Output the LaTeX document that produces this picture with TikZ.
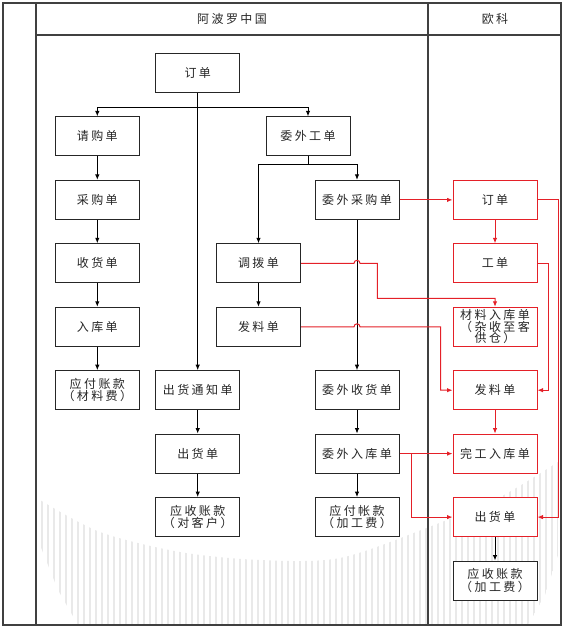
\documentclass[tikz,border=0pt]{standalone}
\usepackage{fontspec}
\setmainfont{Noto Sans CJK SC}[LetterSpace=20]
\usetikzlibrary{arrows.meta,calc}
\definecolor{myred}{RGB}{228,32,40}
\begin{document}
\begin{tikzpicture}[x=1pt,y=-1pt,
  box/.style={draw=black!85, line width=1pt, fill=white, minimum width=84pt, minimum height=39pt,
    inner sep=0pt, align=center, font=\fontsize{12}{12.5}\selectfont, text=black!85},
  rbox/.style={box, draw=myred},
  hdr/.style={inner sep=0pt, font=\fontsize{12}{12.5}\selectfont, text=black!85},
  conn/.style={draw=black, line width=1pt, -{Latex[length=5.5pt,width=4.5pt]}},
  plain/.style={draw=black, line width=1pt},
  rconn/.style={draw=myred, line width=1pt, -{Latex[length=5.5pt,width=4.5pt]}, color=myred},
  frame/.style={draw=black!75, line width=1.6pt},
  stripe/.style={draw=gray!17, line width=2pt}]
\useasboundingbox (0,0) rectangle (564,628);
% watermark
\begin{scope}
\clip plot[smooth] coordinates {(40,500) (100,532) (180,552) (260,560) (340,558) (429,527) (500,497) (558,462)}
  -- (558,555) -- (545,595) -- (528,625) -- (78,625) -- (58,590) -- (40,545) -- cycle;
\foreach \x in {42,48,...,558} \draw[stripe] (\x,450) -- (\x,628);
\end{scope}
% frame
\draw[frame] (3,3) rectangle (561,625);
\draw[frame] (36,3) -- (36,625);
\draw[frame] (428,3) -- (428,625);
\draw[frame] (36,35) -- (561,35);
\node[hdr] (h1) at (232,19) {阿波罗中国};
\node[hdr] (h2) at (495,19) {欧科};
% nodes
\node[box] (dd) at (197.7,73) {订单};
\node[box] (qg) at (97.3,136.4) {请购单};
\node[box] (wwgd) at (308,136.4) {委外工单};
\node[box] (cg) at (97.3,199.9) {采购单};
\node[box] (wwcg) at (357,199.9) {委外采购单};
\node[rbox] (rdd) at (495,199.9) {订单};
\node[box] (sh) at (97.3,263.3) {收货单};
\node[box] (db) at (258.5,263.3) {调拨单};
\node[rbox] (rgd) at (495,263.3) {工单};
\node[box] (rk) at (97.3,326.8) {入库单};
\node[box] (fl) at (258.5,326.8) {发料单};
\node[rbox, font=\fontsize{12}{11.7}\selectfont] (rcl) at (495,326.8) {材料入库单\\（杂收至客\\供仓）};
\node[box] (yf) at (97.3,390.2) {应付账款\\（材料费）};
\node[box] (chtz) at (197.7,390.2) {出货通知单};
\node[box] (wwsh) at (357,390.2) {委外收货单};
\node[rbox] (rfl) at (495,390.2) {发料单};
\node[box] (ch) at (197.7,453.6) {出货单};
\node[box] (wwrk) at (357,453.6) {委外入库单};
\node[rbox] (rwg) at (495,453.6) {完工入库单};
\node[box] (ys) at (197.7,517.1) {应收账款\\（对客户）};
\node[box] (yfjg) at (357,517.1) {应付帐款\\（加工费）};
\node[rbox] (rch) at (495,517.1) {出货单};
\node[box] (ysjg) at (495,580.5) {应收账款\\（加工费）};
% helper coordinates
\coordinate (br) at (197.7,108);
\coordinate (sp) at (308,164.3);
\coordinate (k1) at (377.3,298.3);
\coordinate (k2) at (440.7,0);
\coordinate (k3) at (411,0);
\coordinate (c1) at (558,0);
\coordinate (c2) at (548.7,0);
% black connectors
\draw[conn] (dd.south) -- (chtz.north);
\draw[conn] (br) -| (qg.north);
\draw[conn] (br) -| (wwgd.north);
\draw[conn] (qg.south) -- (cg.north);
\draw[conn] (cg.south) -- (sh.north);
\draw[conn] (sh.south) -- (rk.north);
\draw[conn] (rk.south) -- (yf.north);
\draw[plain] (wwgd.south) -- (sp);
\draw[conn] (sp) -| (db.north);
\draw[conn] (sp) -| (wwcg.north);
\draw[conn] (db.south) -- (fl.north);
\draw[conn] (wwcg.south) -- (wwsh.north);
\draw[conn] (wwsh.south) -- (wwrk.north);
\draw[conn] (wwrk.south) -- (yfjg.north);
\draw[conn] (chtz.south) -- (ch.north);
\draw[conn] (ch.south) -- (ys.north);
\draw[conn] (rch.south) -- (ysjg.north);
% red connectors
\draw[rconn] (wwcg.east) -- (rdd.west);
\draw[rconn] (rdd.south) -- (rgd.north);
\draw[rconn] (rdd.east) -- (rdd.east -| c1) |- (rch.east);
\draw[rconn] (rgd.east) -- (rgd.east -| c2) |- (rfl.east);
\draw[rconn] (db.east) -- ($(db.east -| wwcg.south)+(-3,0)$) arc[start angle=180, end angle=360, radius=3]
  -- (k1 |- db.east) -- (k1) -| (rcl.north);
\draw[rconn] (fl.east) -- ($(fl.east -| wwcg.south)+(-3,0)$) arc[start angle=180, end angle=360, radius=3]
  -- (k2 |- fl.east) |- (rfl.west);
\draw[rconn] (rfl.south) -- (rwg.north);
\draw[rconn] (wwrk.east) -- (rwg.west);
\draw[rconn] (wwrk.east -| k3) |- (rch.west);
\end{tikzpicture}
\end{document}
